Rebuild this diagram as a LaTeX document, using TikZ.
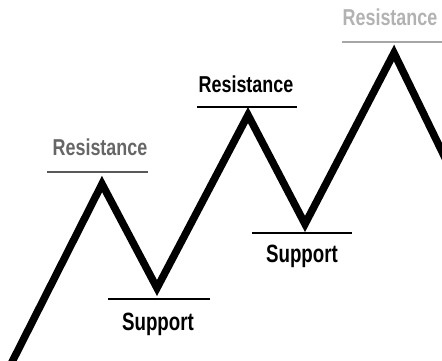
\documentclass[tikz,border=0pt]{standalone}
\usepackage{fontspec}
\setmainfont{Liberation Sans}
\begin{document}
\begin{tikzpicture}[x=1pt, y=-1pt,
                    price/.style={line width=7.5pt, line join=miter, black},
                    level/.style={line width=2.6pt},
                    lbl/.style={anchor=base, inner sep=0pt, xscale=0.78,
                                font=\bfseries\fontsize{23}{25}\selectfont}]
  \useasboundingbox (0,0) rectangle (442,360);
  \clip (0,0) rectangle (442,360);
  % kainos kreive
  \coordinate (p0) at (11,364);
  \coordinate (r1) at (102,184);
  \coordinate (s1) at (157,288);
  \coordinate (r2) at (248,115);
  \coordinate (s2) at (305,224);
  \coordinate (r3) at (394,53);
  \coordinate (p6) at (450,168);
  \draw[price] (p0) -- (r1) -- (s1) -- (r2) -- (s2) -- (r3) -- (p6);
  % lygiai
  \draw[level, black!65] (47,172) -- (148,172);
  \draw[level, black] (108,299) -- (210,299);
  \draw[level, black] (197,107) -- (297,107);
  \draw[level, black] (252,233) -- (352,233);
  \draw[level, black!35, line width=2pt] (342,42) -- (442,42);
  % uzrasai
  \node[lbl, black!60] (res1) at (100,155) {Resistance};
  \node[lbl, black] (res2) at (246,92) {Resistance};
  \node[lbl, black!30] (res3) at (390,25) {Resistance};
  \node[lbl, black, xscale=0.96, font=\bfseries\fontsize{25}{27}\selectfont] (sup1) at (158,330) {Support};
  \node[lbl, black, xscale=0.96, font=\bfseries\fontsize{25}{27}\selectfont] (sup2) at (302,262) {Support};
\end{tikzpicture}
\end{document}
